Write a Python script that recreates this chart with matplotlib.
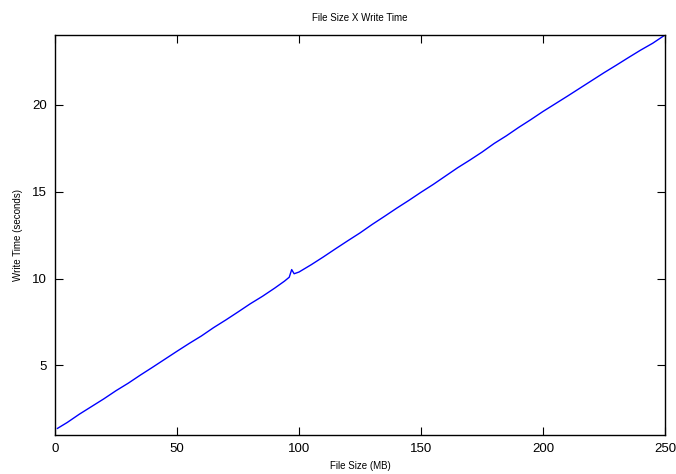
import matplotlib
matplotlib.use("Agg")
import matplotlib.pyplot as plt

plt.rcParams["font.family"] = ["Liberation Sans", "DejaVu Sans"]

file_size_mb = [1, 5, 10, 15, 20, 25, 30, 35, 40, 45, 50, 55, 60, 65, 70, 75,
                80, 85, 90, 94, 96, 97, 98, 100, 105, 110, 115, 120, 125, 130,
                135, 140, 145, 150, 155, 160, 165, 170, 175, 180, 185, 190,
                195, 200, 205, 210, 215, 220, 225, 230, 235, 240, 245, 250]
write_time_s = [1.38, 1.72, 2.20, 2.64, 3.08, 3.55, 3.98, 4.45, 4.90, 5.36,
                5.82, 6.27, 6.70, 7.18, 7.62, 8.08, 8.55, 8.98, 9.45, 9.85,
                10.08, 10.52, 10.28, 10.38, 10.80, 11.25, 11.72, 12.18, 12.63,
                13.12, 13.58, 14.05, 14.50, 14.97, 15.42, 15.90, 16.38, 16.82,
                17.28, 17.78, 18.22, 18.70, 19.15, 19.62, 20.06, 20.50, 20.95,
                21.40, 21.85, 22.28, 22.72, 23.15, 23.55, 24.02]

xticks = [0, 50, 100, 150, 200, 250]
yticks = [5, 10, 15, 20]

fig = plt.figure(figsize=(6.76, 4.74), dpi=100)
ax = fig.add_axes([0.0814, 0.0823, 0.9023, 0.8449])

ax.plot(file_size_mb, write_time_s, color="#0000ff", lw=1.0)

ax.set_xlim(0, 250)
ax.set_ylim(1.0, 24.05)
ax.set_xticks(xticks)
ax.set_yticks(yticks)
ax.tick_params(direction="in", length=6, width=0.8, labelsize=9.5,
               top=True, right=True, pad=6)
for s in ax.spines.values():
    s.set_linewidth(1.0)

ax.set_title("File Size X Write Time", fontsize=7, pad=10)
ax.set_xlabel("File Size (MB)", fontsize=7, labelpad=4)
ax.set_ylabel("Write Time (seconds)", fontsize=7, labelpad=6)

fig.savefig("out.png", dpi=100)
